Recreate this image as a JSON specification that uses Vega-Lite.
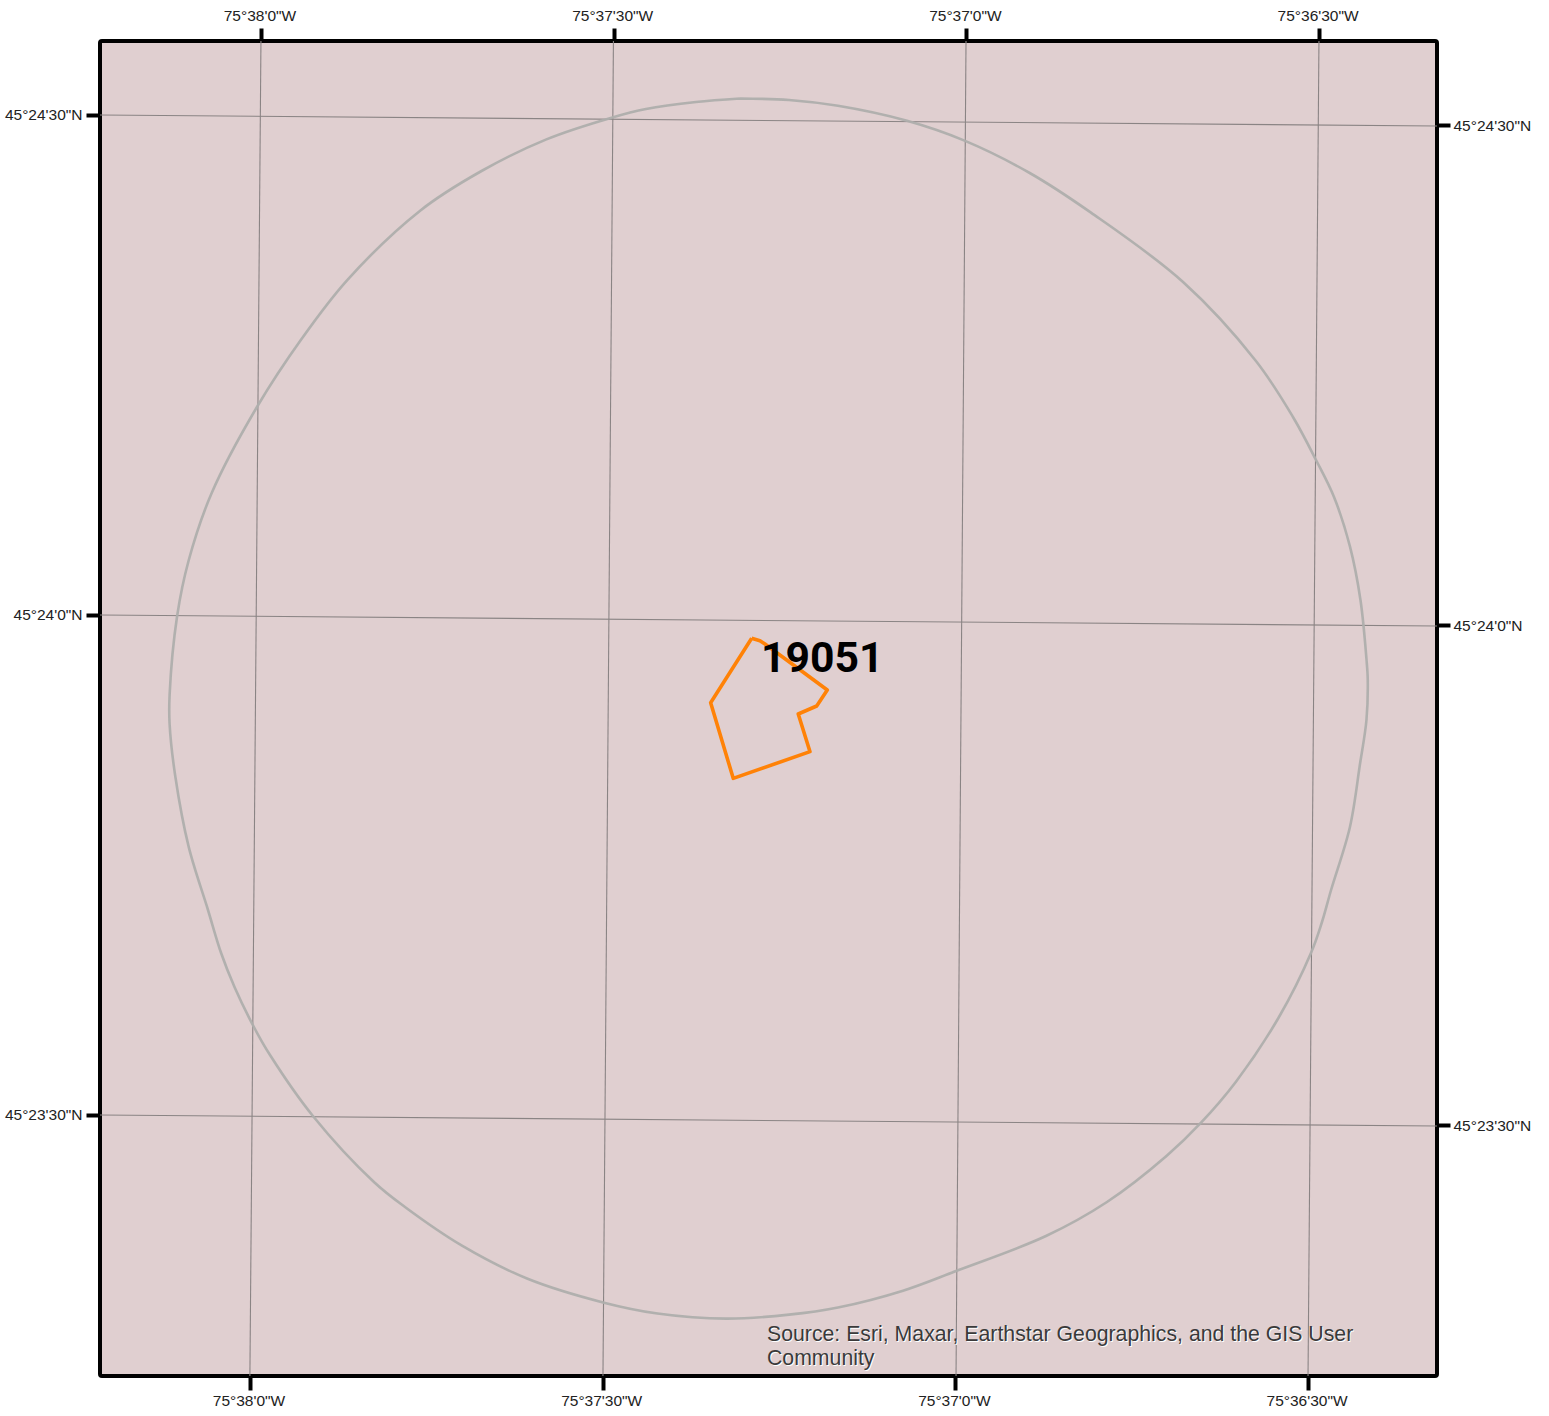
{"$schema":"https://vega.github.io/schema/vega-lite/v6.json","width":1337,"height":1335,"autosize":{"type":"none"},"padding":{"left":100,"top":41,"right":112,"bottom":40},"background":"white","view":{"fill":"#e0cfd0","stroke":"#000000","strokeWidth":4,"cornerRadius":2},"config":{"axis":{"grid":false,"domain":false,"title":null,"ticks":true,"tickColor":"#000000","tickWidth":4,"labelFont":"Liberation Sans","labelFontSize":15.5,"labelColor":"#222222","labelOverlap":false,"labelBound":false,"labelFlush":false}},"resolve":{"scale":{"x":"independent","y":"independent"}},"layer":[{"encoding":{"x":{"field":"x","type":"quantitative","scale":{"domain":[-13.69,100.03],"nice":false,"zero":false},"axis":{"orient":"top","values":[0,30,60,90],"tickSize":13,"labelPadding":5,"labelOffset":-1.5,"labelExpr":"datum.value==0?'75°38\\'0\"W':datum.value==30?'75°37\\'30\"W':datum.value==60?'75°37\\'0\"W':'75°36\\'30\"W'"}},"y":{"field":"y","type":"quantitative","scale":{"domain":[-45.66,34.44],"nice":false,"zero":false},"axis":{"orient":"left","values":[-30,0,30],"tickSize":14,"labelPadding":4,"labelOffset":-0.7,"labelExpr":"datum.value==30?'45°24\\'30\"N':datum.value==0?'45°24\\'0\"N':'45°23\\'30\"N'"}}},"layer":[{"data":{"values":[{"g":"w1","i":0,"x":0,"y":34.44},{"g":"w1","i":1,"x":-0.94,"y":-45.66},{"g":"w2","i":0,"x":29.98,"y":34.44},{"g":"w2","i":1,"x":29.09,"y":-45.66},{"g":"w3","i":0,"x":59.97,"y":34.44},{"g":"w3","i":1,"x":59.12,"y":-45.66},{"g":"w4","i":0,"x":89.99,"y":34.44},{"g":"w4","i":1,"x":89.06,"y":-45.66},{"g":"n1","i":0,"x":-13.69,"y":30},{"g":"n1","i":1,"x":100.03,"y":29.34},{"g":"n2","i":0,"x":-13.69,"y":0},{"g":"n2","i":1,"x":100.03,"y":-0.66},{"g":"n3","i":0,"x":-13.69,"y":-30},{"g":"n3","i":1,"x":100.03,"y":-30.66}]},"mark":{"type":"line","color":"#8a8484","strokeWidth":1.1},"encoding":{"detail":{"field":"g"},"order":{"field":"i"}}},{"data":{"values":[{"i":0,"x":40.74,"y":30.99},{"i":1,"x":37.0,"y":30.78},{"i":2,"x":32.75,"y":30.36},{"i":3,"x":29.82,"y":29.84},{"i":4,"x":24.28,"y":28.54},{"i":5,"x":18.76,"y":26.64},{"i":6,"x":13.54,"y":24.26},{"i":7,"x":7.36,"y":20.11},{"i":8,"x":3.45,"y":16.56},{"i":9,"x":-0.29,"y":12.54},{"i":10,"x":-4.19,"y":7.32},{"i":11,"x":-6.15,"y":3.27},{"i":12,"x":-7.13,"y":-0.06},{"i":13,"x":-7.77,"y":-4.8},{"i":14,"x":-7.77,"y":-6.54},{"i":15,"x":-7.29,"y":-9.66},{"i":16,"x":-6.15,"y":-13.9},{"i":17,"x":-4.53,"y":-17.64},{"i":18,"x":-3.39,"y":-20.28},{"i":19,"x":-2.25,"y":-22.32},{"i":20,"x":-0.6,"y":-24.72},{"i":21,"x":0.77,"y":-26.4},{"i":22,"x":4.42,"y":-30.06},{"i":23,"x":9.61,"y":-34.02},{"i":24,"x":12.25,"y":-35.52},{"i":25,"x":17.1,"y":-37.84},{"i":26,"x":22.63,"y":-39.81},{"i":27,"x":29.18,"y":-41.26},{"i":28,"x":33.73,"y":-41.91},{"i":29,"x":39.55,"y":-42.22},{"i":30,"x":44.91,"y":-41.98},{"i":31,"x":49.08,"y":-41.55},{"i":32,"x":54.61,"y":-40.54},{"i":33,"x":59.12,"y":-39.36},{"i":34,"x":66.77,"y":-37.26},{"i":35,"x":71.96,"y":-35.22},{"i":36,"x":77.02,"y":-32.46},{"i":37,"x":79.96,"y":-30.46},{"i":38,"x":82.93,"y":-28.0},{"i":39,"x":86.59,"y":-24.12},{"i":40,"x":89.31,"y":-20.28},{"i":41,"x":90.22,"y":-18.48},{"i":42,"x":91.02,"y":-16.5},{"i":43,"x":92.63,"y":-12.7},{"i":44,"x":93.48,"y":-8.94},{"i":45,"x":94.03,"y":-6.3},{"i":46,"x":94.14,"y":-3.9},{"i":47,"x":94.03,"y":-2.64},{"i":48,"x":93.52,"y":0.9},{"i":49,"x":92.63,"y":4.1},{"i":50,"x":91.27,"y":7.08},{"i":51,"x":89.74,"y":9.3},{"i":52,"x":87.78,"y":11.88},{"i":53,"x":84.63,"y":15.24},{"i":54,"x":78.43,"y":19.98},{"i":55,"x":70.6,"y":24.14},{"i":56,"x":65.39,"y":26.52},{"i":57,"x":59.84,"y":28.46},{"i":58,"x":54.95,"y":29.65},{"i":59,"x":49.08,"y":30.55},{"i":60,"x":44.91,"y":30.9},{"i":61,"x":40.74,"y":30.99}]},"mark":{"type":"line","color":"#aeaeac","strokeWidth":2.6,"opacity":0.95,"interpolate":"catmull-rom"},"encoding":{"order":{"field":"i"}}},{"data":{"values":[{"i":0,"x":41.74,"y":-1.4},{"i":1,"x":42.44,"y":-1.54},{"i":2,"x":42.87,"y":-1.74},{"i":3,"x":48.17,"y":-4.5},{"i":4,"x":47.27,"y":-5.46},{"i":5,"x":45.7,"y":-5.94},{"i":6,"x":46.7,"y":-8.2},{"i":7,"x":40.17,"y":-9.8},{"i":8,"x":38.25,"y":-5.26},{"i":9,"x":41.74,"y":-1.4}]},"mark":{"type":"line","color":"#ff8207","strokeWidth":3.6,"strokeJoin":"round"},"encoding":{"order":{"field":"i"}}},{"data":{"values":[{"label":"19051","x":42.53,"y":-3.42}]},"mark":{"type":"text","align":"left","baseline":"alphabetic","font":"Roboto","fontWeight":"bold","fontSize":42.7,"color":"#000000"},"encoding":{"text":{"field":"label"}}},{"data":{"values":[{"label":"Source: Esri, Maxar, Earthstar Geographics, and the GIS User","x":43.12,"y":-43.63},{"label":"Community","x":43.12,"y":-45.07}]},"mark":{"type":"text","align":"left","baseline":"alphabetic","font":"Liberation Sans","fontSize":21.27,"color":"#ffffff"},"encoding":{"text":{"field":"label"}}},{"data":{"values":[{"label":"Source: Esri, Maxar, Earthstar Geographics, and the GIS User","x":43.04,"y":-43.56},{"label":"Community","x":43.04,"y":-45.0}]},"mark":{"type":"text","align":"left","baseline":"alphabetic","font":"Liberation Sans","fontSize":21.27,"color":"#3a3a3a"},"encoding":{"text":{"field":"label"}}}]},{"data":{"values":[{"x":0,"y":0}]},"mark":{"type":"point","opacity":0},"encoding":{"x":{"field":"x","type":"quantitative","scale":{"domain":[-12.76,100.97],"nice":false,"zero":false},"axis":{"orient":"bottom","values":[0,30,60,90],"tickSize":14,"labelPadding":3,"labelOffset":-1.5,"labelExpr":"datum.value==0?'75°38\\'0\"W':datum.value==30?'75°37\\'30\"W':datum.value==60?'75°37\\'0\"W':'75°36\\'30\"W'"}},"y":{"field":"y","type":"quantitative","scale":{"domain":[-45.06,35.04],"nice":false,"zero":false},"axis":{"orient":"right","values":[-30,0,30],"tickSize":13,"labelPadding":3,"labelExpr":"datum.value==30?'45°24\\'30\"N':datum.value==0?'45°24\\'0\"N':'45°23\\'30\"N'"}}}}]}
